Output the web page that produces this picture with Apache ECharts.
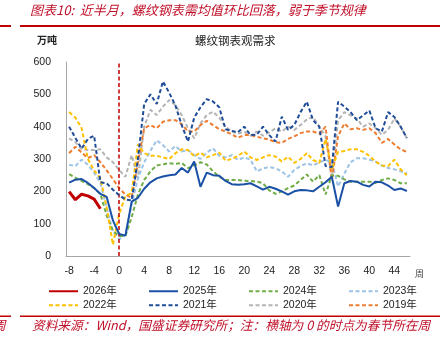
<!DOCTYPE html>
<html><head><meta charset="utf-8">
<script src="https://cdn.jsdelivr.net/npm/echarts@6/dist/echarts.min.js"></script>
<style>html,body{margin:0;padding:0;background:#fff}#c{width:443px;height:338px}</style>
</head><body><div id="c"></div>
<script>
const weeks = [-8,-7,-6,-5,-4,-3,-2,-1,0,1,2,3,4,5,6,7,8,9,10,11,12,13,14,15,16,17,18,19,20,21,22,23,24,25,26,27,28,29,30,31,32,33,34,35,36,37,38,39,40,41,42,43,44,45,46];
const yTicks = [0,100,200,300,400,500,600];
const s2026 = [199,174,191,186,176,146];
const s2025 = [227,236,238,226,210,192,183,110, 68,63,168,180,208,228,240,246,250,252, 272,258,292,214,258,250,248,232,222,220, 222,225,215,205,214,208,200,190,200,204, 203,200,214,228,245,153,225,232,230,220, 215,230,228,218,204,209,201];
const s2024 = [253,242,232,222,210,192,125,78, 62,62,120,190,235,262,280,284,287,285, 288,272,280,290,283,262,245,235,235,235, 233,232,230,225,203,192,200,210,218,235, 252,230,250,190,250,248,237,230,230,230, 230,226,235,240,235,225,225];
const s2023 = [282,278,298,282,258,225,150,75, 52,65,160,240,290,325,358,343,323,340, 323,328,312,300,320,333,310,305,312,297, 305,298,262,271,275,271,262,245,266,278, 287,280,290,297,290,215,255,290,302,302, 298,292,280,272,268,262,256];
const s2022 = [445,428,395,300,265,240,150,35, 130,185,195,345,318,310,310,305,300,318, 330,328,308,320,305,312,320,295,300,310, 323,305,297,305,312,308,292,307,288,300, 318,297,288,362,268,322,325,330,330,322, 310,292,280,278,298,268,250];
const s2021 = [400,365,332,362,372,228,225,205, 188,175,172,300,470,500,470,540,505,465, 405,354,428,460,485,478,460,392,387,383, 400,374,375,400,374,354,431,390,405,445, 477,420,400,278,275,477,462,445,420,435, 450,395,385,445,430,400,365];
const s2020 = [364,352,330,328,328,330,305,290, 266,245,312,240,400,452,436,462,482,467, 436,395,364,410,436,446,428,400,385,378, 385,372,385,372,382,395,385,400,390,405, 422,430,400,370,240,420,445,435,425,400, 410,395,375,390,425,400,364];
const s2019 = [318,338,320,303,312,290,265,238, 210,190,180,290,395,405,395,415,420,420, 408,385,385,405,418,405,392,385,376,366, 374,374,369,364,360,352,350,362,370,380, 385,385,378,400,235,370,410,392,395,390, 395,380,350,362,345,330,322];

const seriesNames = ['2026年','2025年','2024年','2023年','2022年','2021年','2020年','2019年'];
const seriesData = [s2026,s2025,s2024,s2023,s2022,s2021,s2020,s2019];
const seriesColors = ['#c00000','#1a50a6','#70ad47','#9dc3e6','#ffc000','#1f4c98','#b4b4b4','#ed7d31'];
const seriesDashed = [false,false,true,true,true,true,true,true];
const seriesWidth = [3,2,2,2,2,2,2,2];
const seriesZ = [10,9,3,2,4,5,1,2];

const numFont = 'Liberation Sans, Arial, sans-serif';
const cjk = '"Noto Sans CJK SC", sans-serif';

const series = seriesNames.map((n,i)=>{
  const s = {
    name:n, type:'line', data:seriesData[i], symbol:'none', z:seriesZ[i],
    lineStyle:{color:seriesColors[i], width:seriesWidth[i], type: seriesDashed[i]?[4,2.5]:'solid'},
    itemStyle:{color:seriesColors[i]}
  };
  if(i===0){
    s.markLine = {silent:true, symbol:'none', label:{show:false},
      lineStyle:{color:'#c00000', type:[4,2.5], width:1.5},
      data:[{xAxis:'0'}]};
  }
  return s;
});

const legendPos = [[48,286],[148,286],[248,286],[348,286],[48,300],[148,300],[248,300],[348,300]];
const legends = seriesNames.map((n,i)=>({
  data:[n], left:legendPos[i][0], top:legendPos[i][1], padding:0,
  itemWidth:29, itemHeight:12,
  itemStyle:{opacity:0},
  textStyle:{fontFamily:numFont+','+cjk, fontSize:10.5, color:'#222'}
}));

const chart = echarts.init(document.getElementById('c'), null, {renderer:'canvas'});
chart.setOption({
  animation:false,
  backgroundColor:'#fff',
  grid:{left:66, right:33, top:62, bottom:82},
  legend:legends,
  xAxis:{type:'category', data:weeks.map(String), boundaryGap:true,
    axisLine:{lineStyle:{color:'#a6a6a6', width:1}},
    axisTick:{show:false},
    axisLabel:{interval:3, margin:10, fontFamily:numFont, fontSize:10.5, color:'#222'}},
  yAxis:{type:'value', min:yTicks[0], max:yTicks[yTicks.length-1], interval:100,
    axisLine:{show:true, lineStyle:{color:'#a6a6a6', width:1}},
    axisTick:{show:false}, splitLine:{show:false},
    axisLabel:{margin:15, fontFamily:numFont, fontSize:10.5, color:'#222'}},
  series:series,
  graphic:[
    {type:'text', left:30, top:4, style:{text:'图表10:  近半月，螺纹钢表需均值环比回落，弱于季节规律', fill:'#c0102a', font:'italic 13px '+cjk}},
    {type:'rect', shape:{x:0,y:25,width:11,height:2}, style:{fill:'#c00000'}},
    {type:'rect', shape:{x:20,y:25,width:420,height:2}, style:{fill:'#c00000'}},
    {type:'text', left:37, top:35, style:{text:'万吨', fill:'#222', font:'bold 10px '+cjk}},
    {type:'text', left:195, top:35, style:{text:'螺纹钢表观需求', fill:'#222', font:'11.5px '+cjk}},
    {type:'text', left:415, top:269, style:{text:'周', fill:'#444', font:'9px '+cjk}},
    {type:'rect', shape:{x:0,y:315.5,width:11,height:1.5}, style:{fill:'#c00000'}},
    {type:'rect', shape:{x:20,y:315.5,width:420,height:1.5}, style:{fill:'#c00000'}},
    {type:'text', left:-7, top:319, style:{text:'周', fill:'#c0102a', font:'italic 12.7px '+cjk}},
    {type:'text', left:32, top:319, style:{text:'资料来源：Wind，国盛证券研究所；注：横轴为 0 的时点为春节所在周', fill:'#c0102a', font:'italic 12.7px '+cjk}}
  ]
});
</script></body></html>
